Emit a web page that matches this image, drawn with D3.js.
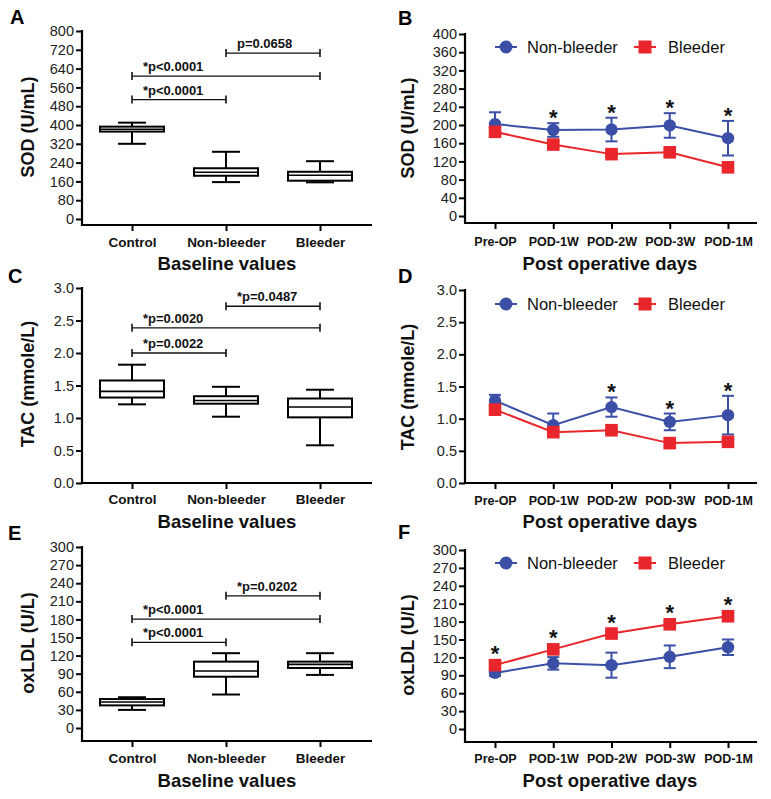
<!DOCTYPE html>
<html><head><meta charset="utf-8">
<script src="https://cdn.jsdelivr.net/npm/d3@7"></script>
<style>
body{margin:0;background:#fff;}
svg text{font-family:"Liberation Sans",Arial,Helvetica,sans-serif;}
</style></head><body>
<svg id="chart" width="771" height="799"></svg>
<script>
// ---------------- DATA ----------------
const boxCategories = ["Control", "Non-bleeder", "Bleeder"];
const timeCategories = ["Pre-OP", "POD-1W", "POD-2W", "POD-3W", "POD-1M"];
const seriesNames = ["Non-bleeder", "Bleeder"];

// five-number summaries per category: [min, q1, median, q3, max]
const sodBaseline = [[320, 372, 382, 393, 410], [157, 184, 199, 216, 286], [156, 163, 186, 201, 246]];
const tacBaseline = [[1.21, 1.315, 1.41, 1.577, 1.82], [1.02, 1.22, 1.27, 1.335, 1.48], [0.58, 1.01, 1.17, 1.30, 1.435]];
const oxldlBaseline = [[30, 37.5, 43, 48, 51], [55.5, 85, 94.5, 110, 124], [88, 99.5, 105.5, 110, 124]];

// significance brackets: pairs of category indices, level (data units), label
const bracketPairs = [[0, 1], [0, 2], [1, 2]];
const sodBracketLevels = [508, 608, 706];
const sodBracketLabels = ["*p<0.0001", "*p<0.0001", "p=0.0658"];
const tacBracketLevels = [2.0, 2.387, 2.72];
const tacBracketLabels = ["*p=0.0022", "*p=0.0020", "*p=0.0487"];
const oxldlBracketLevels = [142, 180.5, 219];
const oxldlBracketLabels = ["*p<0.0001", "*p<0.0001", "*p=0.0202"];

// post-operative means and error (SEM)
const sodNonBleeder = [202, 189, 190, 199, 171];
const sodNonBleederErr = [26, 15, 26, 27, 38];
const sodBleeder = [185, 157, 136, 140, 107];
const sodBleederErr = [7, 6, 5, 6, 5];
const sodStars = [1, 2, 3, 4];          // stars above Non-bleeder

const tacNonBleeder = [1.28, 0.90, 1.18, 0.95, 1.055];
const tacNonBleederErr = [0.09, 0.18, 0.15, 0.13, 0.30];
const tacBleeder = [1.14, 0.79, 0.82, 0.62, 0.64];
const tacBleederErr = [0.05, 0.04, 0.04, 0.04, 0.04];
const tacStars = [2, 3, 4];             // stars above Non-bleeder

const oxldlNonBleeder = [94, 110, 107, 121, 137];
const oxldlNonBleederErr = [5, 10.5, 21, 19, 13];
const oxldlBleeder = [107, 133.5, 160, 175.5, 189];
const oxldlBleederErr = [4, 4, 4, 4, 4];
const oxldlStars = [0, 1, 2, 3, 4];     // stars above Bleeder

// tick values
const sodBoxTicks = [0, 80, 160, 240, 320, 400, 480, 560, 640, 720, 800];
const sodLineTicks = [0, 40, 80, 120, 160, 200, 240, 280, 320, 360, 400];
const tacTicks = [0, 0.5, 1.0, 1.5, 2.0, 2.5, 3.0];
const oxldlTicks = [0, 30, 60, 90, 120, 150, 180, 210, 240, 270, 300];

// ---------------- STYLE ----------------
const BLUE = "#3b4fa6";
const RED = "#e8262b";
const svg = d3.select("#chart");

function baseAxes(cfg, ticks, fmt, cats, catFont) {
  const g = svg.append("g");
  const y = d3.scaleLinear().domain([0, ticks[ticks.length - 1]]).range([cfg.yZero, cfg.yTop]);
  const x = d3.scalePoint().domain(cats).range(cfg.catRange);

  const yg = g.append("g").attr("transform", `translate(${cfg.axisX},0)`)
    .call(d3.axisLeft(y).tickValues(ticks).tickFormat(fmt).tickSize(6).tickPadding(2));
  yg.select(".domain").remove();
  yg.selectAll(".tick line").attr("stroke", "#000").attr("stroke-width", 2);
  yg.selectAll(".tick text").attr("font-size", 14.5).attr("fill", "#222");

  const xg = g.append("g").attr("transform", `translate(0,${cfg.xAxisY})`)
    .call(d3.axisBottom(x).tickSize(6));
  xg.select(".domain").remove();
  xg.selectAll(".tick line").attr("stroke", "#000").attr("stroke-width", 2);
  xg.selectAll(".tick text").attr("y", cfg.tickLabelY - cfg.xAxisY).attr("dy", 0)
    .attr("font-size", catFont).attr("font-weight", "bold").attr("fill", "#111");

  g.append("line").attr("x1", cfg.axisX).attr("x2", cfg.axisX)
    .attr("y1", cfg.yTop - 1).attr("y2", cfg.xAxisY + 1)
    .attr("stroke", "#000").attr("stroke-width", 2.2);
  g.append("line").attr("x1", cfg.axisX - 1).attr("x2", cfg.xRight)
    .attr("y1", cfg.xAxisY).attr("y2", cfg.xAxisY)
    .attr("stroke", "#000").attr("stroke-width", 2.2);

  g.append("text").attr("transform", `translate(${cfg.yTitleX},${cfg.yTitleY}) rotate(-90)`)
    .attr("text-anchor", "middle").attr("font-size", 18).attr("font-weight", "bold")
    .attr("fill", "#111").text(cfg.yTitle);
  g.append("text").attr("x", cfg.xTitleX).attr("y", cfg.xTitleY)
    .attr("text-anchor", "middle").attr("font-size", 18.5).attr("font-weight", "bold")
    .attr("fill", "#111").text(cfg.xTitle);
  g.append("text").attr("x", cfg.letterX).attr("y", cfg.letterY)
    .attr("font-size", 20).attr("font-weight", "bold").attr("fill", "#000").text(cfg.letter);
  return { g, x, y };
}

function drawBoxPanel(cfg, ticks, fmt, data, levels, labels) {
  const { g, x, y } = baseAxes(cfg, ticks, fmt, boxCategories, 13.5);
  const bw = 64, cw = 28;
  boxCategories.forEach((c, i) => {
    const [mn, q1, md, q3, mx] = data[i];
    const cx = x(c);
    const s = { stroke: "#000", "stroke-width": 2 };
    const ln = (x1, y1, x2, y2) => g.append("line").attr("x1", x1).attr("y1", y1).attr("x2", x2).attr("y2", y2)
      .attr("stroke", "#000").attr("stroke-width", 2);
    ln(cx, y(mx), cx, y(q3));
    ln(cx, y(q1), cx, y(mn));
    ln(cx - cw / 2, y(mx), cx + cw / 2, y(mx));
    ln(cx - cw / 2, y(mn), cx + cw / 2, y(mn));
    g.append("rect").attr("x", cx - bw / 2).attr("y", y(q3)).attr("width", bw)
      .attr("height", Math.max(0, y(q1) - y(q3))).attr("fill", "#fff")
      .attr("stroke", "#000").attr("stroke-width", 2);
    ln(cx - bw / 2, y(md), cx + bw / 2, y(md)).attr("stroke-width", 1.6);
  });
  bracketPairs.forEach((p, i) => {
    const x1 = x(boxCategories[p[0]]), x2 = x(boxCategories[p[1]]), yy = y(levels[i]);
    g.append("line").attr("x1", x1).attr("x2", x2).attr("y1", yy).attr("y2", yy)
      .attr("stroke", "#111").attr("stroke-width", 1.4);
    [x1, x2].forEach(xx => g.append("line").attr("x1", xx).attr("x2", xx)
      .attr("y1", yy - 4).attr("y2", yy + 4).attr("stroke", "#111").attr("stroke-width", 1.6));
    g.append("text").attr("x", x1 + 11).attr("y", yy - 5).attr("font-size", 13)
      .attr("font-weight", "bold").attr("fill", "#111").text(labels[i]);
  });
}

function drawLinePanel(cfg, ticks, fmt, nb, nbErr, bl, blErr, stars, starSeries) {
  const { g, x, y } = baseAxes(cfg, ticks, fmt, timeCategories, 12.5);
  const series = [
    { vals: nb, err: nbErr, color: BLUE, shape: "circle" },
    { vals: bl, err: blErr, color: RED, shape: "square" }
  ];
  series.forEach(s => {
    const line = d3.line().x((d, i) => x(timeCategories[i])).y(d => y(d));
    g.append("path").datum(s.vals).attr("d", line).attr("fill", "none")
      .attr("stroke", s.color).attr("stroke-width", 2);
    s.vals.forEach((v, i) => {
      const cx = x(timeCategories[i]);
      const t = y(v + s.err[i]), b = y(v - s.err[i]);
      g.append("line").attr("x1", cx).attr("x2", cx).attr("y1", t).attr("y2", b)
        .attr("stroke", s.color).attr("stroke-width", 2);
      [t, b].forEach(yy => g.append("line").attr("x1", cx - 6).attr("x2", cx + 6)
        .attr("y1", yy).attr("y2", yy).attr("stroke", s.color).attr("stroke-width", 2));
    });
    s.vals.forEach((v, i) => {
      const cx = x(timeCategories[i]), cy = y(v);
      if (s.shape === "circle") {
        g.append("circle").attr("cx", cx).attr("cy", cy).attr("r", 6.2).attr("fill", s.color);
      } else {
        g.append("rect").attr("x", cx - 6.3).attr("y", cy - 6.3).attr("width", 12.6)
          .attr("height", 12.6).attr("fill", s.color);
      }
    });
  });
  // significance stars
  stars.forEach(i => {
    const cx = x(timeCategories[i]);
    let cy;
    if (starSeries === 0) cy = y(nb[i] + nbErr[i]) - 10;
    else cy = y(bl[i]) - 16;
    g.append("text").attr("x", cx).attr("y", cy + 12).attr("text-anchor", "middle")
      .attr("font-size", 22).attr("font-weight", "bold").attr("fill", "#111").text("*");
  });
  // legend
  const ly = cfg.legendY;
  const items = [
    { x0: 495, tx: 527, color: BLUE, shape: "circle", name: seriesNames[0] },
    { x0: 634, tx: 668, color: RED, shape: "square", name: seriesNames[1] }
  ];
  items.forEach(it => {
    g.append("line").attr("x1", it.x0).attr("x2", it.x0 + 22).attr("y1", ly).attr("y2", ly)
      .attr("stroke", it.color).attr("stroke-width", 2);
    if (it.shape === "circle") {
      g.append("circle").attr("cx", it.x0 + 11).attr("cy", ly).attr("r", 6.5).attr("fill", it.color);
    } else {
      g.append("rect").attr("x", it.x0 + 4.5).attr("y", ly - 6.5).attr("width", 13)
        .attr("height", 13).attr("fill", it.color);
    }
    g.append("text").attr("x", it.tx).attr("y", ly + 6).attr("font-size", 16.5)
      .attr("fill", "#111").text(it.name);
  });
}

const fmtInt = d3.format("d");
const fmt1 = d3.format(".1f");
const leftCommon = { axisX: 82, xRight: 372, catRange: [132, 320], yTitleX: 34, xTitleX: 227 };
const rightCommon = { axisX: 465, xRight: 757, catRange: [495, 728], yTitleX: 414, xTitleX: 610 };

drawBoxPanel(Object.assign({}, leftCommon, {
  letter: "A", letterX: 10, letterY: 24, yZero: 219, yTop: 31, xAxisY: 225, tickLabelY: 247,
  yTitle: "SOD (U/mL)", yTitleY: 127, xTitle: "Baseline values", xTitleY: 270
}), sodBoxTicks, fmtInt, sodBaseline, sodBracketLevels, sodBracketLabels);

drawBoxPanel(Object.assign({}, leftCommon, {
  letter: "C", letterX: 8, letterY: 283, yZero: 483, yTop: 288, xAxisY: 483, tickLabelY: 504,
  yTitle: "TAC (mmole/L)", yTitleY: 384, xTitle: "Baseline values", xTitleY: 528
}), tacTicks, fmt1, tacBaseline, tacBracketLevels, tacBracketLabels);

drawBoxPanel(Object.assign({}, leftCommon, {
  letter: "E", letterX: 8, letterY: 540, yZero: 728, yTop: 547, xAxisY: 741, tickLabelY: 763,
  yTitle: "oxLDL (U/L)", yTitleY: 643, xTitle: "Baseline values", xTitleY: 787
}), oxldlTicks, fmtInt, oxldlBaseline, oxldlBracketLevels, oxldlBracketLabels);

drawLinePanel(Object.assign({}, rightCommon, {
  letter: "B", letterX: 398, letterY: 25, yZero: 216, yTop: 34, xAxisY: 223, tickLabelY: 246,
  yTitle: "SOD (U/mL)", yTitleY: 128, xTitle: "Post operative days", xTitleY: 270, legendY: 47
}), sodLineTicks, fmtInt, sodNonBleeder, sodNonBleederErr, sodBleeder, sodBleederErr, sodStars, 0);

drawLinePanel(Object.assign({}, rightCommon, {
  letter: "D", letterX: 398, letterY: 283, yZero: 483, yTop: 290, xAxisY: 483, tickLabelY: 505,
  yTitle: "TAC (mmole/L)", yTitleY: 387, xTitle: "Post operative days", xTitleY: 528, legendY: 304
}), tacTicks, fmt1, tacNonBleeder, tacNonBleederErr, tacBleeder, tacBleederErr, tacStars, 0);

drawLinePanel(Object.assign({}, rightCommon, {
  letter: "F", letterX: 398, letterY: 539, yZero: 729, yTop: 550, xAxisY: 742, tickLabelY: 763,
  yTitle: "oxLDL (U/L)", yTitleY: 645, xTitle: "Post operative days", xTitleY: 787, legendY: 563
}), oxldlTicks, fmtInt, oxldlNonBleeder, oxldlNonBleederErr, oxldlBleeder, oxldlBleederErr, oxldlStars, 1);
</script>
</body></html>
